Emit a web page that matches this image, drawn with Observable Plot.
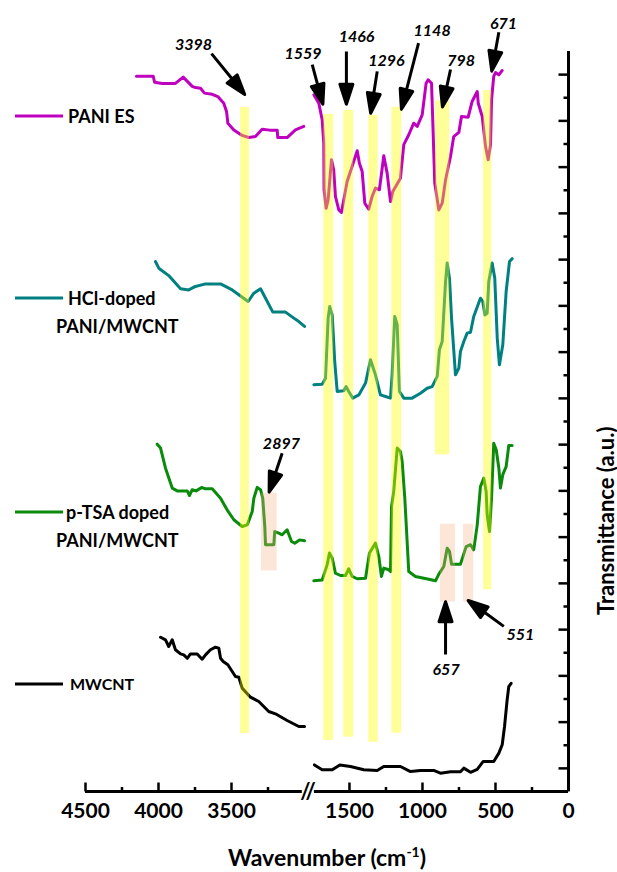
<!DOCTYPE html>
<html><head><meta charset="utf-8">
<script src="https://cdn.jsdelivr.net/npm/d3@7"></script>
<script src="https://cdn.jsdelivr.net/npm/@observablehq/plot@0.6"></script>
<style>
html,body{margin:0;padding:0;background:#fff;}
#chart{width:617px;height:872px;}
</style></head><body><div id="chart"></div>
<script>
// ---------- data: [wavenumber (cm-1), transmittance (a.u., offset)] ----------
const paniEsHigh = [[4151,30.93],[4036,30.93],[4027,30.67],[3975,30.62],[3884,30.62],[3831,30.89],[3769,30.49],[3747,30.44],[3712,30.41],[3685,30.20],[3632,30.15],[3594,30.05],[3553,29.76],[3534,29.41],[3525,28.90],[3484,28.61],[3427,28.37],[3382,28.28],[3336,28.32],[3290,28.64],[3238,28.60],[3187,28.60],[3183,28.28],[3119,28.28],[3062,28.61],[3005,28.76]];
const paniEsLow = [[1744,30.13],[1710,29.76],[1687,29.05],[1676,28.04],[1674,26.02],[1660,25.22],[1646,25.59],[1623,27.32],[1608,26.88],[1596,25.73],[1573,25.15],[1555,25.04],[1539,25.59],[1516,26.38],[1482,27.03],[1447,27.71],[1432,27.17],[1413,26.81],[1395,25.44],[1368,25.18],[1345,25.73],[1322,26.09],[1295,26.02],[1265,27.49],[1242,26.74],[1219,25.51],[1203,25.95],[1151,26.52],[1128,27.97],[1094,28.40],[1060,28.90],[1036,28.76],[1002,29.26],[975,30.63],[961,30.78],[938,30.63],[929,28.90],[916,26.31],[888,25.15],[865,25.44],[842,26.45],[808,27.46],[786,28.32],[751,28.50],[733,29.19],[687,29.16],[660,29.84],[625,30.27],[618,29.76],[591,29.19],[568,27.89],[550,27.32],[534,27.97],[527,29.91],[512,30.92],[500,31.09],[477,30.99],[454,31.18]];
const hclHigh = [[4021,22.92],[3998,22.63],[3930,22.31],[3849,21.74],[3793,21.69],[3747,21.84],[3678,21.95],[3575,21.95],[3495,21.69],[3450,21.48],[3386,21.19],[3347,21.55],[3301,21.74],[3217,20.73],[3130,20.73],[3073,20.47],[3039,20.32],[2998,20.11]];
const hclLow = [[1744,17.59],[1687,17.61],[1664,17.87],[1646,20.47],[1635,20.97],[1618,20.61],[1601,18.59],[1584,17.30],[1539,17.33],[1523,17.51],[1505,17.30],[1477,17.01],[1436,17.15],[1390,17.66],[1356,18.67],[1322,18.02],[1288,17.15],[1253,17.08],[1219,17.01],[1208,18.02],[1190,20.54],[1173,20.18],[1158,17.30],[1128,17.01],[1071,17.01],[1014,17.22],[968,17.44],[934,17.51],[899,17.95],[884,19.10],[865,19.46],[842,22.05],[831,22.85],[815,22.20],[801,20.47],[774,18.02],[751,18.31],[740,19.03],[717,19.46],[694,19.82],[671,19.86],[649,20.54],[603,21.33],[587,21.19],[573,20.61],[557,20.68],[546,22.05],[523,22.85],[505,22.20],[488,19.60],[473,18.45],[450,19.32],[427,21.62],[404,22.92],[386,23.04]];
const ptsaHigh = [[4009,15.02],[3986,14.85],[3952,13.98],[3906,13.12],[3872,13.00],[3803,13.00],[3788,12.80],[3769,13.05],[3742,13.00],[3705,13.15],[3678,13.09],[3632,13.09],[3575,12.68],[3530,12.18],[3484,11.75],[3427,11.46],[3392,11.53],[3358,12.11],[3347,12.68],[3324,13.15],[3301,13.05],[3286,12.68],[3272,11.46],[3267,10.67],[3210,10.67],[3204,11.24],[3176,11.17],[3153,11.10],[3119,11.32],[3089,10.81],[3067,10.74],[3034,10.88],[2998,10.84]];
const ptsaLow = [[1744,9.11],[1687,9.15],[1653,9.80],[1637,10.31],[1618,10.09],[1596,9.44],[1562,9.34],[1527,9.34],[1505,9.63],[1482,9.30],[1447,9.20],[1390,9.22],[1363,10.31],[1322,10.74],[1299,10.16],[1281,9.30],[1265,9.66],[1231,9.59],[1219,9.51],[1212,12.32],[1197,12.97],[1173,14.85],[1151,14.70],[1139,14.27],[1121,12.68],[1094,9.51],[1048,9.30],[957,9.18],[911,9.11],[888,9.40],[854,9.73],[831,10.52],[815,10.38],[801,9.83],[740,9.83],[701,10.59],[671,10.67],[649,10.45],[625,11.53],[603,13.19],[580,13.55],[564,12.97],[557,11.97],[541,11.24],[527,12.68],[512,15.06],[495,14.78],[477,13.98],[466,13.12],[450,13.70],[427,14.05],[409,14.96],[386,14.96]];
const mwcntHigh = [[3986,6.67],[3952,6.56],[3930,6.27],[3906,6.56],[3884,6.13],[3849,5.95],[3827,5.91],[3803,5.76],[3781,5.95],[3735,5.95],[3701,5.72],[3678,5.91],[3644,6.13],[3610,6.24],[3587,6.20],[3575,5.76],[3557,5.62],[3525,5.48],[3495,5.19],[3473,4.97],[3450,4.94],[3427,4.47],[3370,4.08],[3313,3.89],[3245,3.46],[3199,3.36],[3119,3.07],[3039,2.81],[3000,2.81]];
const mwcntLow = [[1740,1.15],[1687,0.94],[1618,0.94],[1566,1.15],[1493,1.08],[1402,0.94],[1310,0.91],[1265,1.08],[1151,1.08],[1082,0.86],[1014,0.91],[923,0.91],[877,0.79],[808,0.85],[740,0.85],[717,1.01],[671,0.83],[625,0.96],[584,1.30],[512,1.30],[477,1.66],[454,2.02],[438,2.81],[420,3.97],[409,4.54],[393,4.68]];

const seriesNames = ["PANI ES", "HCl-doped PANI/MWCNT", "p-TSA doped PANI/MWCNT", "MWCNT"];
const seriesColors = ["#bf00bf", "#008080", "#0b8b0b", "#000000"];

// highlighted bands (yellow = assigned peaks, peach = p-TSA specific)
const yellowPeaks = ["3398","1559","1466","1296","1148","798","671"];
const yellowFrom = [3438,1676,1539,1368,1210,911,582];
const yellowTo = [3377,1608,1471,1303,1142,813,525];
const yellowLow = [2.51,2.21,2.35,2.13,2.52,14.56,8.72];
const yellowHigh = [29.58,29.28,29.45,29.24,29.59,29.87,30.31];
const peachPeaks = ["2897","657","551"];
const peachFrom = [3295,877,719];
const peachTo = [3187,774,649];
const peachLow = [9.54,8.19,8.19];
const peachHigh = [12.90,11.56,11.56];

// arrows and peak labels
const arrowPeaks = ["3398","1559","1466","1296","1148","798","671","2897","657","551"];
const arrowTailWn = [3637,1755,1521,1310,1027,808,477,3153,842,443];
const arrowTailT = [31.91,31.43,32.0,31.14,32.36,31.22,32.83,14.63,5.92,7.14];
const arrowTipWn = [3404,1680,1521,1356,1146,865,527,3245,842,694];
const arrowTipT = [30.10,29.67,29.67,29.28,29.45,29.55,31.10,12.90,8.26,8.29];
const labelWn = [3760,3010,1452,1247,934,735,445,3158,838,329];
const labelT = [32.30,31.89,32.65,31.61,32.91,31.61,33.21,15.05,5.28,6.79];

// axis ticks
const xMajorTicks = [4500,4000,3500,1500,1000,500,0];
const xMinorTicks = [4250,3750,3250,1250,750,250];
const yMajorTicks = [1,3,5,7,9,11,13,15,17,19,21,23,25,27,29,31];
const yMinorTicks = [2,4,6,8,10,12,14,16,18,20,22,24,26,28,30];

// ---------- chart ----------
const W = 617, H = 872;
const FONT = "Lato, 'Open Sans', 'DejaVu Sans', sans-serif";
const xOpts = {type: "linear", domain: [4500, 3000, 1760, 0], range: [85, 304, 311, 568]};
const yOpts = {type: "linear", domain: [0, 32], range: [791, 51]};
const sx = Plot.scale({x: xOpts});
const sy = Plot.scale({y: yOpts});

const segsBySeries = [[paniEsHigh, paniEsLow], [hclHigh, hclLow], [ptsaHigh, ptsaLow], [mwcntHigh, mwcntLow]];
const lineMarks = segsBySeries.map((segs, si) =>
  Plot.line(segs.flatMap((seg, k) => seg.map(([wn, t]) => ({wn, t, seg: k}))),
    {x: "wn", y: "t", z: "seg", stroke: seriesColors[si], strokeWidth: 3, strokeLinejoin: "round", strokeLinecap: "round"}));

const yellowBands = yellowPeaks.map((p, i) => ({p, x1: yellowFrom[i], x2: yellowTo[i], y1: yellowLow[i], y2: yellowHigh[i]}));
const peachBands = peachPeaks.map((p, i) => ({p, x1: peachFrom[i], x2: peachTo[i], y1: peachLow[i], y2: peachHigh[i]}));

const lineShape = {draw(ctx, l) { ctx.moveTo(0, 0); ctx.lineTo(0, -l); }};
const arrowShape = {draw(ctx, l) {
  const h = 20, w = 6.5, tip = l - 1.2;
  ctx.moveTo(0, 0); ctx.lineTo(0, -(tip - h + 2));
  ctx.moveTo(-w, -(tip - h)); ctx.lineTo(0, -tip); ctx.lineTo(w, -(tip - h)); ctx.closePath();
}};
const arrowMarks = arrowPeaks.map((p, i) => {
  const x1 = sx.apply(arrowTailWn[i]), y1 = sy.apply(arrowTailT[i]);
  const x2 = sx.apply(arrowTipWn[i]), y2 = sy.apply(arrowTipT[i]);
  const len = Math.hypot(x2 - x1, y2 - y1);
  const rot = Math.atan2(x2 - x1, -(y2 - y1)) * 180 / Math.PI;
  return Plot.vector([{wn: arrowTailWn[i], t: arrowTailT[i]}], {x: "wn", y: "t", length: len, rotate: rot, anchor: "start",
    shape: arrowShape, stroke: "black", fill: "black", strokeWidth: 3, strokeLinejoin: "round", strokeLinecap: "butt"});
});
const labels = arrowPeaks.map((p, i) => ({p, wn: labelWn[i], t: labelT[i]}));

const chart = Plot.plot({
  width: W, height: H,
  marginLeft: 85, marginRight: 49, marginTop: 51, marginBottom: 81,
  style: {fontFamily: FONT, background: "#fff", overflow: "visible"},
  x: {...xOpts, axis: null},
  y: {...yOpts, axis: null},
  marks: [
    ...lineMarks,
    Plot.rect(yellowBands, {x1: "x1", x2: "x2", y1: "y1", y2: "y2", fill: "#ffff00", fillOpacity: 0.4}),
    Plot.rect(peachBands, {x1: "x1", x2: "x2", y1: "y1", y2: "y2", fill: "#f4b183", fillOpacity: 0.32}),
    ...arrowMarks,
    Plot.text(labels, {x: "wn", y: "t", text: "p", fontSize: 16, fontWeight: "bold", fontStyle: "italic", fill: "black"}),
    // broken x axis line + right y axis line
    Plot.ruleY([{a: 4500, b: 3015}, {a: 1740, b: 0}], {x1: "a", x2: "b", y: 0, strokeWidth: 3, stroke: "black"}),
    Plot.ruleX([0], {y1: 0, y2: 32, strokeWidth: 3, stroke: "black"}),
    Plot.text(["//"], {x: 2380, y: 0, text: d => d, fontSize: 22, fontWeight: "bold", fill: "black"}),
    // inward ticks
    Plot.vector(xMajorTicks, {x: d => d, frameAnchor: "bottom", length: 9, rotate: 0, anchor: "start", shape: lineShape, stroke: "black", strokeWidth: 2.5, strokeLinecap: "butt"}),
    Plot.vector(xMinorTicks, {x: d => d, frameAnchor: "bottom", length: 4.5, rotate: 0, anchor: "start", shape: lineShape, stroke: "black", strokeWidth: 2.5, strokeLinecap: "butt"}),
    Plot.vector(yMajorTicks, {y: d => d, frameAnchor: "right", length: 10, rotate: -90, anchor: "start", shape: lineShape, stroke: "black", strokeWidth: 2.5, strokeLinecap: "butt"}),
    Plot.vector(yMinorTicks, {y: d => d, frameAnchor: "right", length: 5, rotate: -90, anchor: "start", shape: lineShape, stroke: "black", strokeWidth: 2.5, strokeLinecap: "butt"}),
    Plot.text(xMajorTicks, {x: d => d, text: d => String(d), frameAnchor: "bottom", dy: 12, lineAnchor: "top", fontSize: 21, fontWeight: "bold", fill: "black"}),
    Plot.text(["Transmittance (a.u.)"], {text: d => d, frameAnchor: "right", dx: 38, dy: 5, rotate: -90, fontSize: 22, fontWeight: "bold", fill: "black"})
  ]
});

// x-axis title with superscript, and the legend
const svg = d3.select(chart);
const xt = svg.append("text").attr("x", 327).attr("y", 866).attr("text-anchor", "middle")
  .attr("font-family", FONT).attr("font-size", 23).attr("font-weight", "bold").attr("fill", "black");
xt.append("tspan").text("Wavenumber (cm");
xt.append("tspan").attr("dy", -9).attr("font-size", 14).text("-1");
xt.append("tspan").attr("dy", 9).text(")");

const legendRows = [
  {color: seriesColors[0], ly: 116, lines: [{t: "PANI ES", x: 68, y: 123, s: 18}]},
  {color: seriesColors[1], ly: 298, lines: [{t: "HCl-doped", x: 68, y: 305, s: 18}, {t: "PANI/MWCNT", x: 56, y: 333, s: 18}]},
  {color: seriesColors[2], ly: 512, lines: [{t: "p-TSA doped", x: 66, y: 518.5, s: 18}, {t: "PANI/MWCNT", x: 56, y: 547, s: 18}]},
  {color: seriesColors[3], ly: 684, lines: [{t: "MWCNT", x: 70, y: 690, s: 16}]}
];
const lg = svg.append("g").attr("font-family", FONT).attr("font-weight", "bold").attr("fill", "black").attr("text-anchor", "start");
legendRows.forEach((r, i) => {
  lg.append("line").attr("x1", 15).attr("x2", 63).attr("y1", r.ly).attr("y2", r.ly)
    .attr("stroke", r.color).attr("stroke-width", 3);
  r.lines.forEach(l => lg.append("text").attr("x", l.x).attr("y", l.y).attr("font-size", l.s).attr("text-anchor", "start").text(l.t));
});

document.getElementById("chart").appendChild(chart);
</script></body></html>
